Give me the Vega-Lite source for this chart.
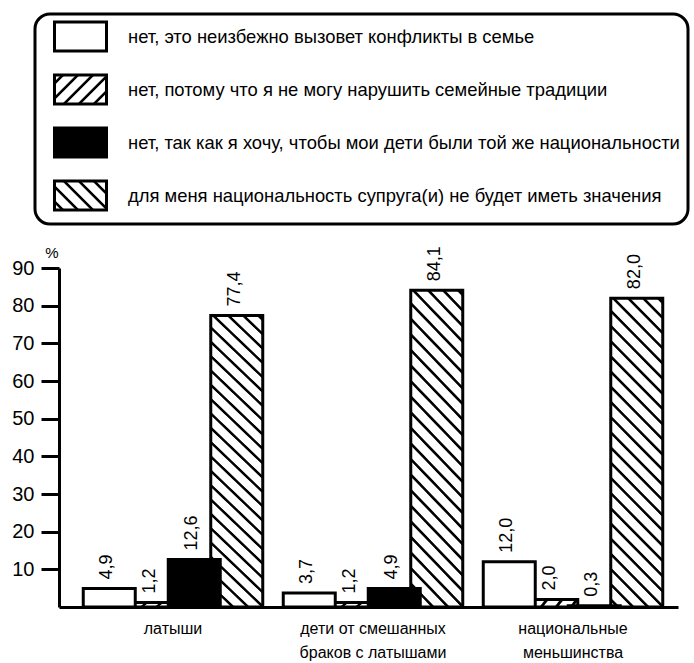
{
  "$schema": "https://vega.github.io/schema/vega-lite/v6.json",
  "width": 619,
  "height": 339,
  "autosize": {"type": "none"},
  "padding": {"left": 59, "top": 268, "right": 16, "bottom": 56},
  "background": "white",
  "config": {
    "view": {"stroke": null},
    "locale": {"number": {"decimal": ",", "thousands": " ", "grouping": [3], "currency": ["", ""]}},
    "axis": {"grid": false, "domainColor": "black", "domainWidth": 3, "tickColor": "black", "labelColor": "black", "titleColor": "black"}
  },
  "data": {
    "values": [
      {"group": "латыши", "series": "нет, потому что я не могу нарушить семейные традиции", "value": 1.2},
      {"group": "латыши", "series": "для меня национальность супруга(и) не будет иметь значения", "value": 77.4},
      {"group": "латыши", "series": "нет, это неизбежно вызовет конфликты в семье", "value": 4.9},
      {"group": "латыши", "series": "нет, так как я хочу, чтобы мои дети были той же национальности", "value": 12.6},
      {"group": "дети от смешанных браков с латышами", "series": "нет, потому что я не могу нарушить семейные традиции", "value": 1.2},
      {"group": "дети от смешанных браков с латышами", "series": "для меня национальность супруга(и) не будет иметь значения", "value": 84.1},
      {"group": "дети от смешанных браков с латышами", "series": "нет, это неизбежно вызовет конфликты в семье", "value": 3.7},
      {"group": "дети от смешанных браков с латышами", "series": "нет, так как я хочу, чтобы мои дети были той же национальности", "value": 4.9},
      {"group": "национальные меньшинства", "series": "нет, потому что я не могу нарушить семейные традиции", "value": 2.0},
      {"group": "национальные меньшинства", "series": "для меня национальность супруга(и) не будет иметь значения", "value": 82.0},
      {"group": "национальные меньшинства", "series": "нет, это неизбежно вызовет конфликты в семье", "value": 12.0},
      {"group": "национальные меньшинства", "series": "нет, так как я хочу, чтобы мои дети были той же национальности", "value": 0.3}
    ]
  },
  "encoding": {
    "x": {
      "field": "group",
      "type": "nominal",
      "scale": {
        "domain": ["латыши", "дети от смешанных браков с латышами", "национальные меньшинства"],
        "paddingInner": 0,
        "paddingOuter": 0.0475,
        "align": 0.737
      },
      "axis": {
        "title": null,
        "ticks": false,
        "labelAngle": 0,
        "labelFont": "Liberation Sans, Arial, sans-serif",
        "labelFontSize": 16,
        "labelPadding": 13,
        "labelLineHeight": 24,
        "labelBaseline": "top",
        "labelLimit": 0,
        "labelExpr": "datum.value == 'дети от смешанных браков с латышами' ? ['дети от смешанных', 'браков с латышами'] : datum.value == 'национальные меньшинства' ? ['национальные', 'меньшинства'] : datum.value"
      }
    },
    "xOffset": {
      "field": "series",
      "type": "nominal",
      "scale": {
        "domain": [
          "нет, это неизбежно вызовет конфликты в семье",
          "нет, потому что я не могу нарушить семейные традиции",
          "нет, так как я хочу, чтобы мои дети были той же национальности",
          "для меня национальность супруга(и) не будет иметь значения"
        ],
        "paddingInner": 0,
        "paddingOuter": 0.353
      }
    },
    "y": {
      "field": "value",
      "type": "quantitative",
      "scale": {"domain": [0, 90], "nice": false},
      "axis": {
        "values": [10, 20, 30, 40, 50, 60, 70, 80, 90],
        "tickSize": 18,
        "tickWidth": 3,
        "labelFont": "Liberation Sans, Arial, sans-serif",
        "labelFontSize": 20,
        "labelPadding": 7,
        "title": "%",
        "titleAngle": 0,
        "titleX": -7.5,
        "titleY": -15.5,
        "titleAlign": "center",
        "titleBaseline": "middle",
        "titleFont": "Liberation Sans, Arial, sans-serif",
        "titleFontSize": 15,
        "titleFontWeight": "normal"
      }
    }
  },
  "layer": [
    {
      "mark": {"type": "bar", "width": 52, "stroke": "black", "strokeWidth": 3},
      "encoding": {
        "fill": {
          "field": "series",
          "type": "nominal",
          "legend": null,
          "scale": {
            "domain": [
              "нет, это неизбежно вызовет конфликты в семье",
              "нет, потому что я не могу нарушить семейные традиции",
              "нет, так как я хочу, чтобы мои дети были той же национальности",
              "для меня национальность супруга(и) не будет иметь значения"
            ],
            "range": [
              "white",
              {"expr": "{gradient:'linear',x1:0,y1:0,x2:1.1007,y2:0.127,stops:[{offset:0,color:'#fff'},{offset:0.069,color:'#fff'},{offset:0.0897,color:'#000'},{offset:0.131,color:'#000'},{offset:0.1517,color:'#fff'},{offset:0.3276,color:'#fff'},{offset:0.3483,color:'#000'},{offset:0.3897,color:'#000'},{offset:0.4103,color:'#fff'},{offset:0.5862,color:'#fff'},{offset:0.6069,color:'#000'},{offset:0.6483,color:'#000'},{offset:0.669,color:'#fff'},{offset:0.8448,color:'#fff'},{offset:0.8655,color:'#000'},{offset:0.9069,color:'#000'},{offset:0.9276,color:'#fff'},{offset:1,color:'#fff'}]}"},
              "black",
              {"expr": "{gradient:'linear',x1:0,y1:1,x2:0.1939,y2:-0.1375,stops:[{offset:0,color:'#fff'},{offset:0.014,color:'#fff'},{offset:0.0174,color:'#000'},{offset:0.0241,color:'#000'},{offset:0.0275,color:'#fff'},{offset:0.056,color:'#fff'},{offset:0.0594,color:'#000'},{offset:0.0661,color:'#000'},{offset:0.0695,color:'#fff'},{offset:0.098,color:'#fff'},{offset:0.1014,color:'#000'},{offset:0.1081,color:'#000'},{offset:0.1115,color:'#fff'},{offset:0.1401,color:'#fff'},{offset:0.1434,color:'#000'},{offset:0.1501,color:'#000'},{offset:0.1535,color:'#fff'},{offset:0.1821,color:'#fff'},{offset:0.1854,color:'#000'},{offset:0.1922,color:'#000'},{offset:0.1955,color:'#fff'},{offset:0.2241,color:'#fff'},{offset:0.2275,color:'#000'},{offset:0.2342,color:'#000'},{offset:0.2375,color:'#fff'},{offset:0.2661,color:'#fff'},{offset:0.2695,color:'#000'},{offset:0.2762,color:'#000'},{offset:0.2796,color:'#fff'},{offset:0.3081,color:'#fff'},{offset:0.3115,color:'#000'},{offset:0.3182,color:'#000'},{offset:0.3216,color:'#fff'},{offset:0.3501,color:'#fff'},{offset:0.3535,color:'#000'},{offset:0.3602,color:'#000'},{offset:0.3636,color:'#fff'},{offset:0.3922,color:'#fff'},{offset:0.3955,color:'#000'},{offset:0.4022,color:'#000'},{offset:0.4056,color:'#fff'},{offset:0.4342,color:'#fff'},{offset:0.4375,color:'#000'},{offset:0.4443,color:'#000'},{offset:0.4476,color:'#fff'},{offset:0.4762,color:'#fff'},{offset:0.4796,color:'#000'},{offset:0.4863,color:'#000'},{offset:0.4896,color:'#fff'},{offset:0.5182,color:'#fff'},{offset:0.5216,color:'#000'},{offset:0.5283,color:'#000'},{offset:0.5317,color:'#fff'},{offset:0.5602,color:'#fff'},{offset:0.5636,color:'#000'},{offset:0.5703,color:'#000'},{offset:0.5737,color:'#fff'},{offset:0.6022,color:'#fff'},{offset:0.6056,color:'#000'},{offset:0.6123,color:'#000'},{offset:0.6157,color:'#fff'},{offset:0.6443,color:'#fff'},{offset:0.6476,color:'#000'},{offset:0.6543,color:'#000'},{offset:0.6577,color:'#fff'},{offset:0.6863,color:'#fff'},{offset:0.6896,color:'#000'},{offset:0.6964,color:'#000'},{offset:0.6997,color:'#fff'},{offset:0.7283,color:'#fff'},{offset:0.7317,color:'#000'},{offset:0.7384,color:'#000'},{offset:0.7417,color:'#fff'},{offset:0.7703,color:'#fff'},{offset:0.7737,color:'#000'},{offset:0.7804,color:'#000'},{offset:0.7838,color:'#fff'},{offset:0.8123,color:'#fff'},{offset:0.8157,color:'#000'},{offset:0.8224,color:'#000'},{offset:0.8258,color:'#fff'},{offset:0.8543,color:'#fff'},{offset:0.8577,color:'#000'},{offset:0.8644,color:'#000'},{offset:0.8678,color:'#fff'},{offset:0.8964,color:'#fff'},{offset:0.8997,color:'#000'},{offset:0.9064,color:'#000'},{offset:0.9098,color:'#fff'},{offset:0.9384,color:'#fff'},{offset:0.9417,color:'#000'},{offset:0.9485,color:'#000'},{offset:0.9518,color:'#fff'},{offset:0.9804,color:'#fff'},{offset:0.9838,color:'#000'},{offset:0.9905,color:'#000'},{offset:0.9938,color:'#fff'},{offset:1,color:'#fff'}]}"}
            ]
          }
        }
      }
    },
    {
      "mark": {
        "type": "text",
        "angle": 270,
        "align": "left",
        "baseline": "middle",
        "dx": 9,
        "dy": -2,
        "font": "Liberation Sans, Arial, sans-serif",
        "fontSize": 18,
        "fill": "black"
      },
      "encoding": {
        "text": {"field": "value", "type": "quantitative", "format": ".1f"}
      }
    },
    {
      "mark": {"type": "point", "filled": true, "size": 0, "strokeWidth": 0},
      "encoding": {
        "fill": {
          "field": "series",
          "type": "nominal",
          "scale": {
            "domain": [
              "нет, это неизбежно вызовет конфликты в семье",
              "нет, потому что я не могу нарушить семейные традиции",
              "нет, так как я хочу, чтобы мои дети были той же национальности",
              "для меня национальность супруга(и) не будет иметь значения"
            ],
            "range": [
              "white",
              {"expr": "{gradient:'linear',x1:0,y1:0,x2:1.1882,y2:0.6626,stops:[{offset:0,color:'#fff'},{offset:0.0741,color:'#fff'},{offset:0.0889,color:'#000'},{offset:0.1185,color:'#000'},{offset:0.1333,color:'#fff'},{offset:0.2593,color:'#fff'},{offset:0.2741,color:'#000'},{offset:0.3037,color:'#000'},{offset:0.3185,color:'#fff'},{offset:0.4444,color:'#fff'},{offset:0.4593,color:'#000'},{offset:0.4889,color:'#000'},{offset:0.5037,color:'#fff'},{offset:0.6296,color:'#fff'},{offset:0.6444,color:'#000'},{offset:0.6741,color:'#000'},{offset:0.6889,color:'#fff'},{offset:0.8148,color:'#fff'},{offset:0.8296,color:'#000'},{offset:0.8593,color:'#000'},{offset:0.8741,color:'#fff'},{offset:1,color:'#fff'}]}"},
              "black",
              {"expr": "{gradient:'linear',x1:0,y1:1,x2:1.1882,y2:0.3374,stops:[{offset:0,color:'#fff'},{offset:0.0741,color:'#fff'},{offset:0.0889,color:'#000'},{offset:0.1185,color:'#000'},{offset:0.1333,color:'#fff'},{offset:0.2593,color:'#fff'},{offset:0.2741,color:'#000'},{offset:0.3037,color:'#000'},{offset:0.3185,color:'#fff'},{offset:0.4444,color:'#fff'},{offset:0.4593,color:'#000'},{offset:0.4889,color:'#000'},{offset:0.5037,color:'#fff'},{offset:0.6296,color:'#fff'},{offset:0.6444,color:'#000'},{offset:0.6741,color:'#000'},{offset:0.6889,color:'#fff'},{offset:0.8148,color:'#fff'},{offset:0.8296,color:'#000'},{offset:0.8593,color:'#000'},{offset:0.8741,color:'#fff'},{offset:1,color:'#fff'}]}"}
            ]
          },
          "legend": {
            "orient": "none",
            "legendX": -24,
            "legendY": -254,
            "title": null,
            "direction": "vertical",
            "symbolType": "M-2,-1.115H2V1.115H-2Z",
            "symbolSize": 676,
            "symbolStrokeColor": "black",
            "symbolStrokeWidth": 3,
            "symbolOpacity": 1,
            "symbolOffset": 23,
            "labelFont": "Liberation Sans, Arial, sans-serif",
            "labelFontSize": 18.4,
            "labelColor": "black",
            "labelOffset": 33,
            "labelLimit": 0,
            "rowPadding": 12,
            "padding": 8,
            "strokeColor": "black",
            "cornerRadius": 15,
            "encode": {"legend": {"update": {"strokeWidth": {"value": 3}}}}
          }
        }
      }
    }
  ],
  "resolve": {"scale": {"fill": "independent"}, "legend": {"fill": "independent"}}
}
